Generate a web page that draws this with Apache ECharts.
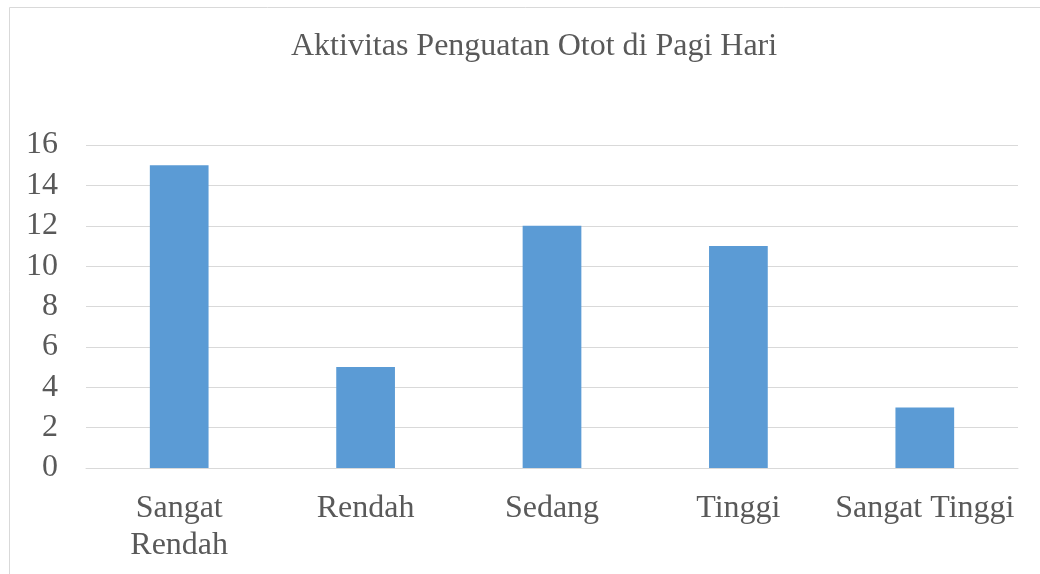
<!DOCTYPE html>
<html>
<head>
<meta charset="utf-8">
<script src="https://cdn.jsdelivr.net/npm/echarts@6/dist/echarts.min.js"></script>
<style>html,body{margin:0;padding:0;background:#fff}#c{width:1040px;height:574px}</style>
</head>
<body>
<div id="c"></div>
<script>
const titleText = 'Aktivitas Penguatan Otot di Pagi Hari';
const categories = ['Sangat\nRendah', 'Rendah', 'Sedang', 'Tinggi', 'Sangat Tinggi'];
const values = [15, 5, 12, 11, 3];
const yMin = 0, yMax = 16, yStep = 2;

const font = '"Liberation Serif", "Times New Roman", serif';
const chart = echarts.init(document.getElementById('c'));
chart.setOption({
  animation: false,
  backgroundColor: '#ffffff',
  graphic: [{
    type: 'rect', silent: true,
    shape: { x: 9.5, y: 7.5, width: 1200, height: 800 },
    style: { fill: 'none', stroke: '#d9d9d9', lineWidth: 1 }
  }],
  title: {
    text: titleText,
    left: 286, top: 26,
    textStyle: { fontFamily: font, fontSize: 32, fontWeight: 'normal', color: '#595959' }
  },
  grid: { left: 86, right: 22, top: 145, bottom: 106, containLabel: false },
  xAxis: {
    type: 'category',
    data: categories,
    axisLine: { lineStyle: { color: '#d9d9d9', width: 1 } },
    axisTick: { show: false },
    axisLabel: { fontFamily: font, fontSize: 32, color: '#595959', margin: 22, lineHeight: 37, interval: 0 }
  },
  yAxis: {
    type: 'value',
    min: yMin, max: yMax, interval: yStep,
    axisLine: { show: false },
    axisTick: { show: false },
    splitLine: { lineStyle: { color: '#d9d9d9', width: 1 } },
    axisLabel: { fontFamily: font, fontSize: 32, color: '#595959', margin: 28 }
  },
  series: [{
    type: 'bar',
    data: values,
    barWidth: '31.5%',
    itemStyle: { color: '#5b9bd5' }
  }]
});
</script>
</body>
</html>
